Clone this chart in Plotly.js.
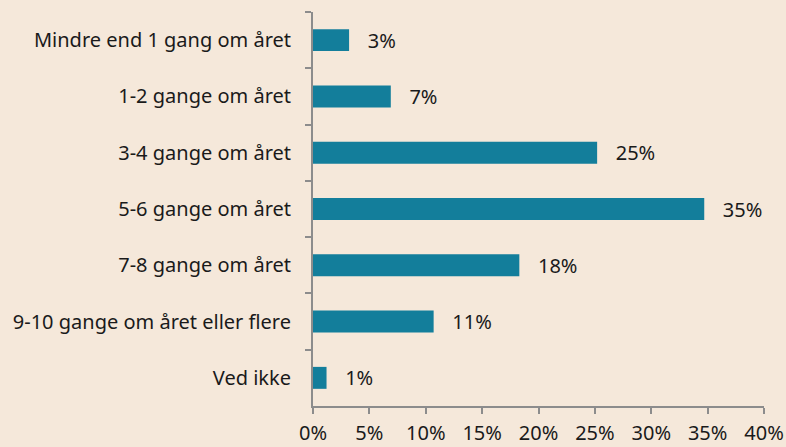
<!DOCTYPE html>
<html>
<head>
<meta charset="utf-8">
<script src="https://cdn.plot.ly/plotly-3.0.1.min.js"></script>
<style>html,body{margin:0;padding:0;background:#f5e8da;}</style>
</head>
<body>
<div id="chart" style="width:786px;height:447px;"></div>
<script>
const categories = [
  "Mindre end 1 gang om året",
  "1-2 gange om året",
  "3-4 gange om året",
  "5-6 gange om året",
  "7-8 gange om året",
  "9-10 gange om året eller flere",
  "Ved ikke"
];
const values = [0.032, 0.069, 0.252, 0.347, 0.183, 0.107, 0.012];
const xTickVals = [0, 0.05, 0.10, 0.15, 0.20, 0.25, 0.30, 0.35, 0.40];
const xTickText = ["0%", "5%", "10%", "15%", "20%", "25%", "30%", "35%", "40%"];

const FONT = "Noto Sans, Open Sans, sans-serif";
const trace = {
  type: "bar",
  orientation: "h",
  y: categories,
  x: values,
  marker: {color: "#137e9b", line: {width: 0}},
  texttemplate: "\u00a0\u00a0\u00a0%{x:.0%}",
  textposition: "outside",
  constraintext: "none",
  cliponaxis: false,
  textfont: {family: FONT, size: 20, color: "#1a1a1a"},
  hoverinfo: "none"
};
const layout = {
  width: 786, height: 447,
  paper_bgcolor: "#f5e8da",
  plot_bgcolor: "#f5e8da",
  margin: {l: 313, r: 22, t: 12, b: 41, pad: 0},
  bargap: 0.61,
  showlegend: false,
  font: {family: FONT, size: 20, color: "#1a1a1a"},
  xaxis: {
    range: [0, 0.40],
    tickvals: xTickVals,
    ticktext: xTickText,
    showgrid: false,
    zeroline: false,
    showline: true,
    linecolor: "#8c8c8c",
    linewidth: 2,
    ticks: "outside",
    ticklen: 6,
    tickwidth: 2,
    tickcolor: "#8c8c8c",
    ticklabelstandoff: 2,
    tickfont: {family: FONT, size: 20, color: "#1a1a1a"},
    fixedrange: true
  },
  yaxis: {
    autorange: "reversed",
    type: "category",
    showgrid: false,
    zeroline: false,
    showline: true,
    linecolor: "#8c8c8c",
    linewidth: 2,
    ticks: "outside",
    tickson: "boundaries",
    ticklen: 6,
    tickwidth: 2,
    tickcolor: "#8c8c8c",
    ticklabelstandoff: 16,
    tickfont: {family: FONT, size: 20, color: "#1a1a1a"},
    fixedrange: true
  }
};
Plotly.newPlot("chart", [trace], layout, {displayModeBar: false, staticPlot: true});
</script>
</body>
</html>
